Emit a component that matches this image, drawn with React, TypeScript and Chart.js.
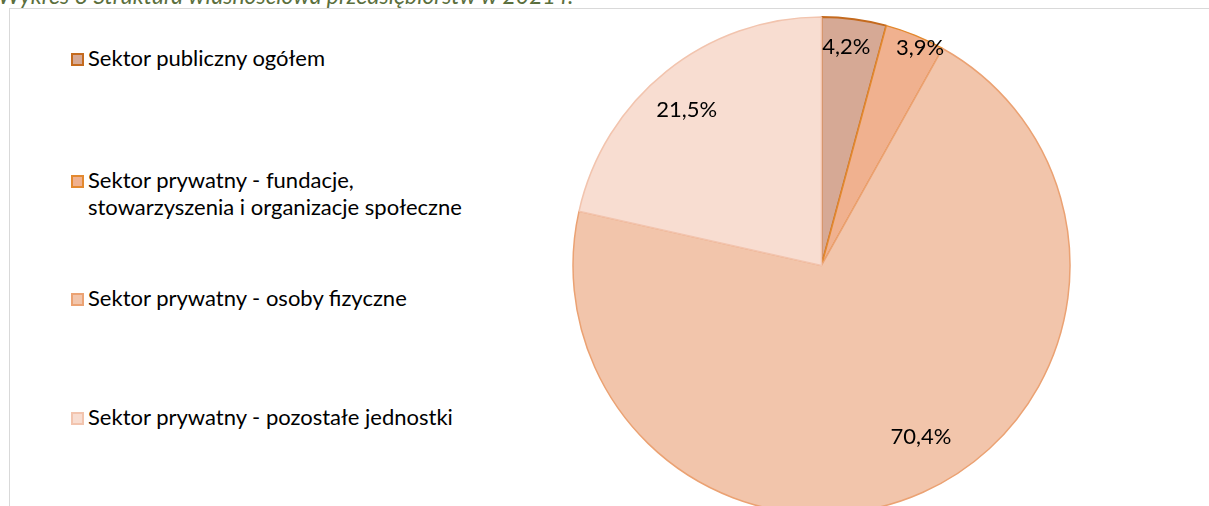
import React, { useEffect, useRef } from "react";
import { Chart, registerables } from "chart.js";

Chart.register(...registerables);

const TITLE = "Wykres 3 Struktura własnościowa przedsiębiorstw w 2021 r.";
const CATEGORIES = [
  "Sektor publiczny ogółem",
  "Sektor prywatny - fundacje, stowarzyszenia i organizacje społeczne",
  "Sektor prywatny - osoby fizyczne",
  "Sektor prywatny - pozostałe jednostki",
];
const LEGEND_LINES = [
  ["Sektor publiczny ogółem"],
  ["Sektor prywatny - fundacje,", "stowarzyszenia i organizacje społeczne"],
  ["Sektor prywatny - osoby fizyczne"],
  ["Sektor prywatny - pozostałe jednostki"],
];
const VALUES = [4.2, 3.9, 70.4, 21.5];
const LABELS = ["4,2%", "3,9%", "70,4%", "21,5%"];

// styles
const FILLS = ["#d6a995", "#f0b18f", "#f2c5ab", "#f8ddd1"];
const BORDERS = ["#c46a1e", "#e3892f", "#eba273", "#f2c4ae"];
const BORDER_W = [2, 1.5, 1.5, 1.5];
const LABEL_R = [0.885, 0.963, 0.798, 0.828];
const LABEL_SHIFT_DEG = [-1.1, 2.2, -6.0, -2.2];
const LEGEND_BASELINES = [66, 188, 306, 425];
const FONT = "Lato, 'Open Sans', sans-serif";

const labelPlugin = {
  id: "sliceLabels",
  afterDatasetsDraw(chart: any) {
    const ctx = chart.ctx;
    const meta = chart.getDatasetMeta(0);
    ctx.save();
    ctx.font = `22px ${FONT}`;
    ctx.fillStyle = "#000000";
    ctx.textAlign = "center";
    ctx.textBaseline = "middle";
    meta.data.forEach((arc: any, i: number) => {
      const p = arc.getProps(["x", "y", "startAngle", "endAngle", "outerRadius"], true);
      const a = (p.startAngle + p.endAngle) / 2 + (LABEL_SHIFT_DEG[i] * Math.PI) / 180;
      const r = p.outerRadius * LABEL_R[i];
      ctx.fillText(LABELS[i], p.x + Math.cos(a) * r, p.y + Math.sin(a) * r);
    });
    ctx.restore();
  },
};

export default function App() {
  const ref = useRef<HTMLCanvasElement | null>(null);
  useEffect(() => {
    if (!ref.current) return;
    const chart = new Chart(ref.current, {
      type: "pie",
      data: {
        labels: CATEGORIES,
        datasets: [
          {
            data: VALUES,
            backgroundColor: FILLS,
            borderColor: BORDERS,
            borderWidth: BORDER_W,
          },
        ],
      },
      options: {
        animation: false,
        responsive: false,
        maintainAspectRatio: false,
        layout: { padding: 0 },
        plugins: {
          legend: { display: false },
          tooltip: { enabled: false },
          title: { display: false },
        },
      },
      plugins: [labelPlugin],
    });
    return () => chart.destroy();
  }, []);

  return (
    <div
      style={{
        position: "fixed",
        left: 0,
        top: 0,
        width: 1209,
        height: 506,
        overflow: "hidden",
        background: "#ffffff",
        fontFamily: FONT,
      }}
    >
      <div
        style={{
          position: "absolute",
          left: -2,
          top: -17,
          fontStyle: "italic",
          fontSize: 23,
          lineHeight: "24px",
          color: "#5b6f3d",
          whiteSpace: "nowrap",
        }}
      >
        {TITLE}
      </div>
      <div
        style={{
          position: "absolute",
          left: 9,
          top: 8,
          width: 1400,
          height: 700,
          border: "1px solid #d9d9d9",
          boxSizing: "border-box",
        }}
      />
      <canvas
        ref={ref}
        width={499}
        height={499}
        style={{ position: "absolute", left: 572, top: 16, width: 499, height: 499 }}
      />
      {LEGEND_LINES.map((lines, i) => (
        <div key={i}>
          <div
            style={{
              position: "absolute",
              left: 71,
              top: LEGEND_BASELINES[i] - 13,
              width: 9,
              height: 9,
              background: FILLS[i],
              border: `2px solid ${BORDERS[i]}`,
            }}
          />
          {lines.map((t, j) => (
            <div
              key={j}
              style={{
                position: "absolute",
                left: 88,
                top: LEGEND_BASELINES[i] + j * 27 - 21,
                fontSize: 22,
                lineHeight: "25px",
                color: "#000000",
                whiteSpace: "nowrap",
              }}
            >
              {t}
            </div>
          ))}
        </div>
      ))}
    </div>
  );
}
